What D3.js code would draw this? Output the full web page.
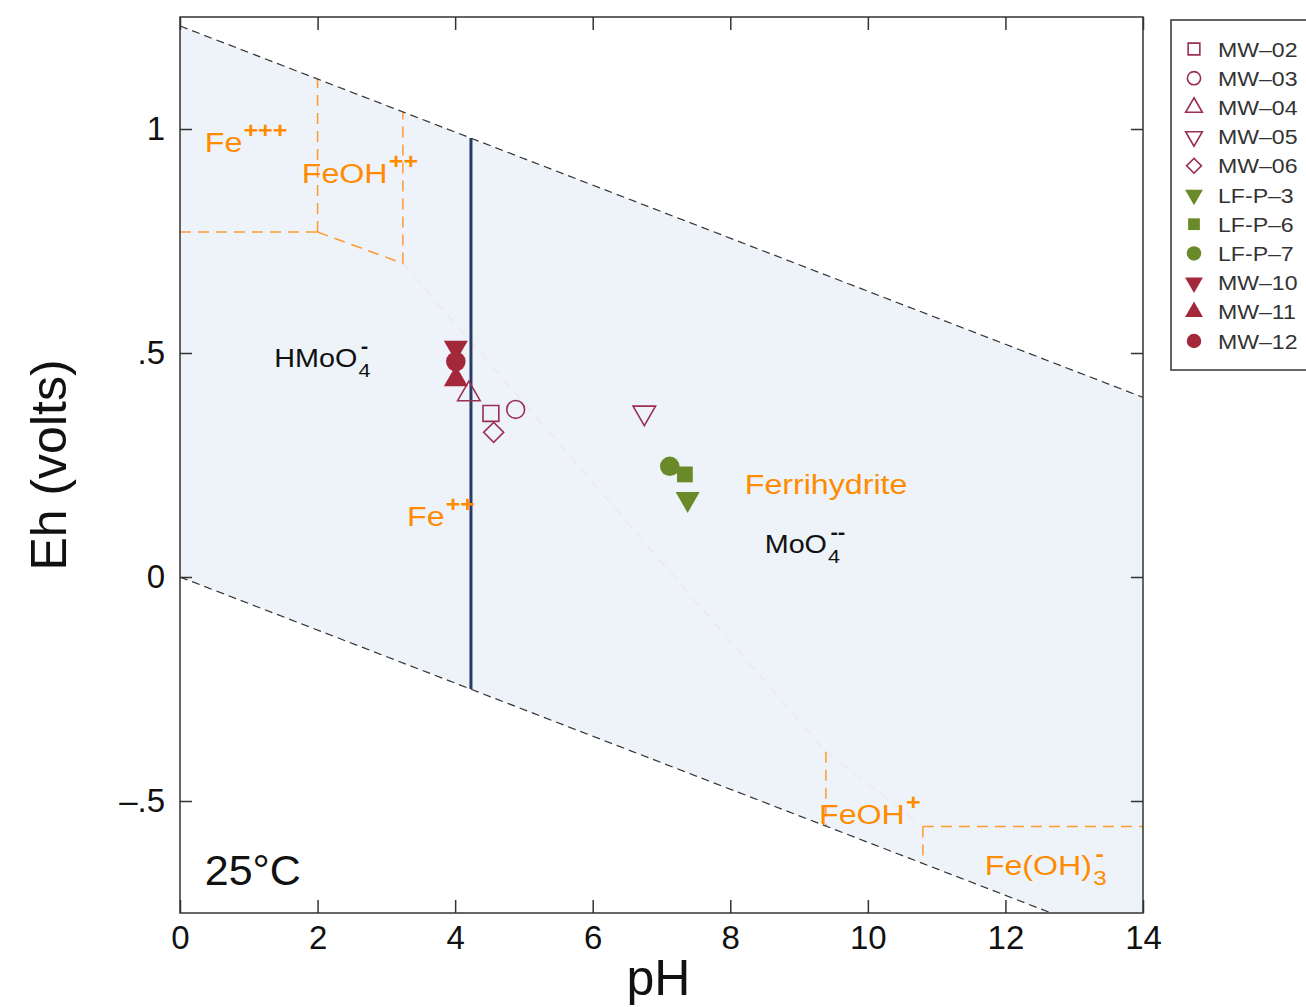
<!DOCTYPE html>
<html>
<head>
<meta charset="utf-8">
<script src="https://cdn.jsdelivr.net/npm/d3@7"></script>
<style>
  body { margin: 0; background: #fff; }
  svg { display: block; font-family: "Liberation Sans", Arial, Helvetica, sans-serif; }
</style>
</head>
<body>
<svg id="chart" width="1306" height="1007"></svg>
<script>
// sample measurements: pH and Eh (volts)
const sampleNames = ["MW–02", "MW–03", "MW–04", "MW–05", "MW–06", "LF-P–3", "LF-P–6", "LF-P–7", "MW–10", "MW–11", "MW–12"];
const samplePH = [4.52, 4.88, 4.20, 6.75, 4.56, 7.38, 7.34, 7.12, 4.01, 4.01, 4.01];
const sampleEh = [0.365, 0.374, 0.408, 0.367, 0.323, 0.174, 0.229, 0.247, 0.512, 0.441, 0.481];

// axis ticks
const xTicks = [0, 2, 4, 6, 8, 10, 12, 14];
const yTicks = [-0.5, 0, 0.5, 1];
const yTickLabels = ["–.5", "0", ".5", "1"];

// water stability limits [pH, Eh]
const waterUpper = [[0, 1.23], [14, 0.401]];
const waterLower = [[0, 0], [14, -0.829]];

// Fe predominance field boundaries [pH, Eh]
const feBoundaries = [
    [[0, 0.77], [2.0, 0.77]],
    [[2.0, 0.77], [2.0, 1.112]],
    [[2.0, 0.77], [3.24, 0.70]],
    [[3.24, 0.70], [3.24, 1.038]],
    [[9.39, -0.39], [9.39, -0.556]],
    [[10.8, -0.557], [10.8, -0.64]],
    [[10.8, -0.557], [14, -0.557]]
];
// boundaries that are barely visible under the shading
const feFaintBoundaries = [
    [[3.24, 0.70], [9.39, -0.39]],
    [[9.39, -0.39], [10.8, -0.557]]
];

// HMoO4- / MoO4-- boundary
const moBoundary = [[4.23, -0.25], [4.23, 0.98]];

// field labels: text, superscript, subscript, anchor [pH, Eh]
const labelText = ["Fe", "FeOH", "HMoO", "Fe", "Ferrihydrite", "MoO", "FeOH", "Fe(OH)"];
const labelSup = ["+++", "++", "-", "++", "", "--", "+", "-"];
const labelSub = ["", "", "4", "", "", "4", "", "3"];
const labelElement = ["Fe", "Fe", "Mo", "Fe", "Fe", "Mo", "Fe", "Fe"];
const labelPH = [0.36, 1.77, 1.37, 3.30, 8.21, 8.50, 9.29, 11.70];
const labelEh = [0.949, 0.88, 0.468, 0.114, 0.185, 0.053, -0.552, -0.666];

const svg = d3.select("#chart");
const margin = { top: 17, right: 163, bottom: 94, left: 180 };
const width = 1306 - margin.left - margin.right;
const height = 1007 - margin.top - margin.bottom;

const x = d3.scaleLinear().domain([0, 14]).range([margin.left, margin.left + width]);
const y = d3.scaleLinear().domain([-0.75, 1.25]).range([margin.top + height, margin.top]);

const orange = "#ff8c00";
const line = d3.line().x(d => x(d[0])).y(d => y(d[1]));

svg.append("defs").append("clipPath").attr("id", "plot-clip")
    .append("rect")
    .attr("x", margin.left).attr("y", margin.top)
    .attr("width", width).attr("height", height);

const plot = svg.append("g").attr("clip-path", "url(#plot-clip)");

// shaded water stability field
plot.append("path")
    .attr("d", line([waterUpper[0], waterUpper[1], waterLower[1], waterLower[0]]) + "Z")
    .attr("fill", "#eef3fa");

// Fe boundaries
plot.selectAll(".fe-faint")
    .data(feFaintBoundaries)
    .enter()
    .append("path")
    .attr("d", line)
    .attr("fill", "none")
    .attr("stroke", "#f0a0a0")
    .attr("stroke-opacity", 0.12)
    .attr("stroke-width", 1.5)
    .attr("stroke-dasharray", "10,7");

plot.selectAll(".fe-line")
    .data(feBoundaries)
    .enter()
    .append("path")
    .attr("d", line)
    .attr("fill", "none")
    .attr("stroke", "#ff9a30")
    .attr("stroke-width", 1.5)
    .attr("stroke-dasharray", "11,7");

// water limits
[waterUpper, waterLower].forEach(w => {
    plot.append("path")
        .attr("d", line(w))
        .attr("fill", "none")
        .attr("stroke", "#333")
        .attr("stroke-width", 1.2)
        .attr("stroke-dasharray", "8,5");
});

// Mo boundary
plot.append("path")
    .attr("d", line(moBoundary))
    .attr("stroke", "#2b3a66")
    .attr("stroke-width", 3);

// field labels with super/subscripts (glyphs in the original are a bit wide)
labelText.forEach((t, i) => {
    const isFe = labelElement[i] === "Fe";
    const fs = isFe ? 28 : 25;
    const col = isFe ? orange : "#111";
    const g = plot.append("g")
        .attr("transform", "translate(" + x(labelPH[i]) + "," + y(labelEh[i]) + ") scale(1.15,1)");
    const base = g.append("text")
        .attr("fill", col)
        .style("font-size", fs + "px")
        .text(t);
    const w = base.node().getComputedTextLength() + 1;
    if (labelSub[i]) {
        g.append("text")
            .attr("x", w).attr("y", 10)
            .attr("fill", col)
            .style("font-size", (fs * 0.75) + "px")
            .text(labelSub[i]);
    }
    if (labelSup[i]) {
        g.append("text")
            .attr("x", w + (labelSub[i] ? 2 : 0)).attr("y", -14)
            .attr("fill", col)
            .style("font-size", (fs * 0.78) + "px")
            .style("font-weight", "bold")
            .text(labelSup[i]);
    }
});

plot.append("text")
    .attr("x", x(0.36)).attr("y", y(-0.688))
    .attr("fill", "#111")
    .style("font-size", "43px")
    .text("25°C");

// markers
const markerStyle = {
    "MW–02": { shape: "square", fill: false, color: "#9a2f4f" },
    "MW–03": { shape: "circle", fill: false, color: "#9a2f4f" },
    "MW–04": { shape: "triUp", fill: false, color: "#9a2f4f" },
    "MW–05": { shape: "triDown", fill: false, color: "#9a2f4f" },
    "MW–06": { shape: "diamond", fill: false, color: "#9a2f4f" },
    "LF-P–3": { shape: "triDown", fill: true, color: "#6a8a2a" },
    "LF-P–6": { shape: "square", fill: true, color: "#6a8a2a" },
    "LF-P–7": { shape: "circle", fill: true, color: "#6a8a2a" },
    "MW–10": { shape: "triDown", fill: true, color: "#a3283a" },
    "MW–11": { shape: "triUp", fill: true, color: "#a3283a" },
    "MW–12": { shape: "circle", fill: true, color: "#a3283a" }
};

function drawMarker(g, name, cx, cy, scale) {
    const st = markerStyle[name];
    let type = d3.symbolCircle, size = 250, rot = 0;
    if (st.shape === "square") { type = d3.symbolSquare; size = 250; }
    if (st.shape === "triUp") { type = d3.symbolTriangle; size = 220; }
    if (st.shape === "triDown") { type = d3.symbolTriangle; size = 220; rot = 180; }
    if (st.shape === "diamond") { type = d3.symbolSquare; size = 200; rot = 45; }
    if (st.fill && st.shape === "triDown") size = 250;
    if (st.fill && st.shape === "triUp") size = 250;
    if (st.fill && st.shape === "circle") size = 300;
    g.append("path")
        .attr("d", d3.symbol(type, size * scale)())
        .attr("transform", "translate(" + cx + "," + cy + ") rotate(" + rot + ")")
        .attr("fill", st.fill ? st.color : "none")
        .attr("stroke", st.color)
        .attr("stroke-width", st.fill ? 0 : 1.6);
}

const pts = svg.append("g");
sampleNames.forEach((n, i) => {
    drawMarker(pts, n, x(samplePH[i]), y(sampleEh[i]), 1);
});

// frame and axes
svg.append("rect")
    .attr("x", margin.left).attr("y", margin.top)
    .attr("width", width).attr("height", height)
    .attr("fill", "none")
    .attr("stroke", "#333")
    .attr("stroke-width", 1.5);

const xAxis = svg.append("g")
    .attr("transform", "translate(0," + (margin.top + height) + ")")
    .call(d3.axisBottom(x).tickValues(xTicks).tickSize(-13).tickPadding(13).tickFormat(d3.format("d")));
const xAxisTop = svg.append("g")
    .attr("transform", "translate(0," + margin.top + ")")
    .call(d3.axisTop(x).tickValues(xTicks).tickSize(-13).tickFormat(""));
const yAxis = svg.append("g")
    .attr("transform", "translate(" + margin.left + ",0)")
    .call(d3.axisLeft(y).tickValues(yTicks).tickSize(-12).tickPadding(15).tickFormat((d, i) => yTickLabels[i]));
const yAxisRight = svg.append("g")
    .attr("transform", "translate(" + (margin.left + width) + ",0)")
    .call(d3.axisRight(y).tickValues(yTicks).tickSize(-12).tickFormat(""));

[xAxis, xAxisTop, yAxis, yAxisRight].forEach(a => {
    a.select(".domain").remove();
    a.selectAll(".tick line").attr("stroke", "#333").attr("stroke-width", 1.5);
    a.selectAll(".tick text")
        .attr("fill", "#111")
        .style("font-family", "\"Liberation Sans\", Arial, sans-serif")
        .style("font-size", "33px");
});

// axis titles
svg.append("text")
    .attr("x", x(7) - 3).attr("y", 995)
    .attr("text-anchor", "middle")
    .attr("fill", "#111")
    .style("font-size", "50px")
    .text("pH");

svg.append("text")
    .attr("transform", "translate(66," + y(0.25) + ") rotate(-90)")
    .attr("text-anchor", "middle")
    .attr("fill", "#111")
    .style("font-size", "50px")
    .text("Eh (volts)");

// legend
const legend = svg.append("g");
legend.append("rect")
    .attr("x", 1171).attr("y", 20)
    .attr("width", 150).attr("height", 350)
    .attr("fill", "#fff")
    .attr("stroke", "#333")
    .attr("stroke-width", 1.5);

sampleNames.forEach((n, i) => {
    const ly = 49 + i * 29.2;
    drawMarker(legend, n, 1194, ly, 0.55);
    legend.append("text")
        .attr("transform", "translate(1218," + ly + ") scale(1.1,1)")
        .attr("dy", "0.36em")
        .attr("fill", "#333")
        .style("font-size", "21px")
        .text(n);
});
</script>
</body>
</html>
